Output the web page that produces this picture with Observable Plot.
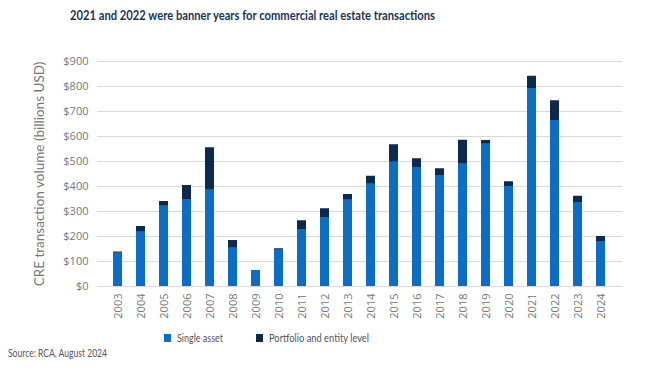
<!DOCTYPE html>
<html>
<head>
<meta charset="utf-8">
<script src="https://cdn.jsdelivr.net/npm/d3@7"></script>
<script src="https://cdn.jsdelivr.net/npm/@observablehq/plot@0.6"></script>
<style>
  body { margin: 0; width: 648px; height: 371px; background: #fff; font-family: Lato, "Open Sans", sans-serif; position: relative; overflow: hidden; }
  #title { position: absolute; left: 70px; top: 7px; font-weight: 700; font-size: 14px; color: #1b3556; white-space: nowrap; line-height: 1.2; transform-origin: 0 0; }
  #chart { position: absolute; left: 0; top: 30px; }
  #legend { position: absolute; top: 332px; left: 0; width: 648px; font-size: 11.5px; color: #555; }
  .item { position: absolute; display: flex; align-items: center; white-space: nowrap; line-height: 1; }
  .sw { width: 7px; height: 8px; margin-right: 6px; flex: none; }
  .lab { display: inline-block; transform-origin: 0 50%; }
  #source { position: absolute; left: 8px; top: 347px; font-size: 10.5px; color: #555; white-space: nowrap; line-height: 1.2; transform-origin: 0 0; }
</style>
</head>
<body>
<div id="title">2021 and 2022 were banner years for commercial real estate transactions</div>
<div id="chart"></div>
<div id="legend"></div>
<div id="source">Source: RCA, August 2024</div>
<script>
const years = ["2003","2004","2005","2006","2007","2008","2009","2010","2011","2012","2013","2014","2015","2016","2017","2018","2019","2020","2021","2022","2023","2024"];
const singleAsset = [133, 217, 321, 348, 385, 153, 64, 145, 228, 276, 345, 409, 497, 476, 444, 489, 569, 400, 792, 664, 336, 180];
const portfolio = [5, 23, 19, 56, 170, 31, 0, 6, 35, 35, 23, 32, 70, 35, 27, 96, 15, 19, 49, 79, 25, 20];
const seriesNames = ["Single asset", "Portfolio and entity level"];
const seriesColors = ["#0a6fc4", "#0c2a4e"];
const yTicks = [0, 100, 200, 300, 400, 500, 600, 700, 800, 900];
const yTitle = "CRE transaction volume (billions USD)";

const rows = [];
years.forEach((y, i) => {
  rows.push({year: y, series: seriesNames[0], value: singleAsset[i]});
  rows.push({year: y, series: seriesNames[1], value: portfolio[i]});
});

const chart = Plot.plot({
  width: 648,
  height: 295,
  marginLeft: 97,
  marginRight: 26,
  marginTop: 31,
  marginBottom: 39,
  style: {fontFamily: "'Open Sans', 'Noto Sans', sans-serif", fontSize: "11px", color: "#666", background: "transparent"},
  x: {domain: years, paddingInner: 0.6, paddingOuter: 0.35, label: null},
  y: {domain: [0, 900], label: null},
  color: {domain: seriesNames, range: seriesColors},
  marks: [
    Plot.gridY(yTicks, {stroke: "#d9d9d9", strokeOpacity: 1, strokeWidth: 1}),
    Plot.barY(rows, {x: "year", y: "value", fill: "series", order: seriesNames}),
    Plot.axisY(yTicks, {tickSize: 0, tickPadding: 9, tickFormat: d => "$" + d, label: null, fill: "#777"}),
    Plot.axisX({tickSize: 0, tickPadding: 7, tickRotate: -90, label: null, fill: "#777"}),
    Plot.text([yTitle], {frameAnchor: "left", dx: -58, rotate: -90, textAnchor: "middle", text: d => d, fontSize: 13, fill: "#777", fontFamily: "Lato, 'Open Sans', sans-serif"})
  ]
});
document.getElementById("chart").appendChild(chart);

const legend = document.getElementById("legend");
const legendX = [164, 256];
const legendTextWidths = [46, 100];
const labels = [];
seriesNames.forEach((name, i) => {
  const item = document.createElement("div");
  item.className = "item";
  item.style.left = legendX[i] + "px";
  const sw = document.createElement("span");
  sw.className = "sw";
  sw.style.background = seriesColors[i];
  const lab = document.createElement("span");
  lab.className = "lab";
  lab.textContent = name;
  item.appendChild(sw);
  item.appendChild(lab);
  legend.appendChild(item);
  labels.push(lab);
});

function squeeze(el, target) {
  const w = el.getBoundingClientRect().width;
  if (w > 0) el.style.transform = "scaleX(" + (target / w) + ")";
}
squeeze(document.getElementById("title"), 365);
squeeze(document.getElementById("source"), 99);
labels.forEach((l, i) => squeeze(l, legendTextWidths[i]));

// fit the y-axis title length
const yt = Array.from(chart.querySelectorAll("text")).find(t => t.textContent === yTitle);
if (yt) {
  const len = yt.getComputedTextLength();
  if (len > 0) yt.setAttribute("font-size", 13 * 225 / len);
}
</script>
</body>
</html>
